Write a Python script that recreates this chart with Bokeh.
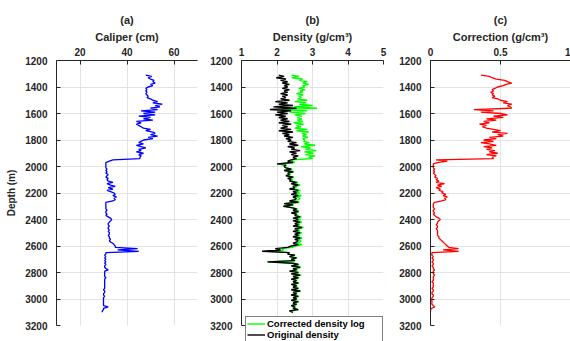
from bokeh.plotting import figure
from bokeh.layouts import row
from bokeh.models import Range1d, FixedTicker, Legend, LegendItem
from bokeh.embed import file_html
from bokeh.resources import INLINE

# ---------------- data ----------------
depth = list(range(1310, 3101, 10))  # m, sampling grid

caliper = [
    48, 50.5, 49, 50, 51.5, 51, 52, 50, 51, 49,
    48, 48.5, 48, 48.5, 48, 48.5, 49, 48.5, 50, 51,
    53, 51, 55, 52, 54, 50, 53, 46, 52, 47,
    52, 45, 50, 47, 51, 44, 46, 44, 45, 46,
    47, 50, 48, 51, 52, 50, 53, 49, 51, 47,
    46, 45, 47, 44, 46, 48, 45, 46, 44, 47,
    45, 46, 45.5, 45.5, 34, 32.5, 31, 31, 31, 31,
    31, 31.5, 31, 31.5, 31, 32, 31.5, 31, 32, 31.5,
    32, 34, 31.5, 33, 35, 32, 34, 31.5, 33, 34.5,
    35, 34, 35.5, 34.5, 35, 34, 31, 31, 31, 31,
    31, 31, 31.5, 31, 31, 31.5, 31, 32, 33, 33.5,
    33, 32.5, 32, 32, 32.5, 32, 32, 32.5, 32, 32.5,
    32.5, 32, 32.5, 32.5, 33, 32.5, 33, 34, 34.5, 35,
    35, 44.5, 36, 45, 31, 31, 30.5, 31, 30.5, 31,
    30.5, 31, 30.5, 31, 30.5, 30.5, 31, 32, 30.5, 30.5,
    30.5, 30.5, 30.5, 31, 30.5, 30.5, 30.5, 30.5, 30.5, 30.5,
    30.5, 30.5, 30, 30.5, 30.5, 30, 30, 30.5, 30, 30,
    30, 30, 30, 30, 30, 32, 30, 30, 29.5, 29.5,
]

density_original = [
    2.05, 2.20, 1.98, 2.25, 2.10, 2.30, 2.15, 2.35, 2.20, 2.30,
    2.15, 2.35, 2.20, 2.30, 2.10, 2.30, 2.15, 2.25, 2.10, 2.35,
    1.95, 2.30, 2.05, 2.45, 1.90, 2.55, 1.80, 2.40, 2.00, 2.30,
    1.95, 2.25, 2.05, 2.30, 2.10, 2.35, 2.05, 2.40, 2.15, 2.30,
    2.10, 2.40, 2.05, 2.45, 2.15, 2.35, 2.20, 2.45, 2.25, 2.40,
    2.30, 2.55, 2.35, 2.60, 2.30, 2.50, 2.40, 2.65, 2.35, 2.55,
    2.40, 2.60, 2.45, 2.55, 2.40, 2.30, 2.45, 2.00, 2.25, 2.20,
    2.25, 2.40, 2.20, 2.45, 2.30, 2.35, 2.25, 2.45, 2.30, 2.40,
    2.35, 2.55, 2.40, 2.60, 2.45, 2.50, 2.35, 2.60, 2.45, 2.55,
    2.40, 2.60, 2.45, 2.55, 2.50, 2.35, 2.60, 2.20, 2.45, 2.18,
    2.40, 2.55, 2.45, 2.60, 2.40, 2.55, 2.50, 2.65, 2.45, 2.60,
    2.45, 2.65, 2.50, 2.60, 2.45, 2.70, 2.50, 2.60, 2.45, 2.65,
    2.50, 2.60, 2.45, 2.65, 2.50, 2.60, 2.55, 2.45, 2.60, 2.40,
    2.30, 1.95, 2.10, 1.58, 2.35, 2.30, 2.50, 2.35, 2.55, 2.40,
    2.50, 1.73, 2.45, 2.60, 2.40, 2.65, 2.45, 2.55, 2.35, 2.60,
    2.40, 2.65, 2.45, 2.60, 2.40, 2.55, 2.45, 2.60, 2.40, 2.55,
    2.45, 2.60, 2.40, 2.65, 2.45, 2.55, 2.40, 2.60, 2.45, 2.55,
    2.40, 2.60, 2.45, 2.55, 2.40, 2.50, 2.45, 2.60, 2.35, 2.45,
]

correction = [
    0.36, 0.42, 0.44, 0.47, 0.53, 0.55, 0.58, 0.54, 0.52, 0.48,
    0.46, 0.44, 0.45, 0.43, 0.45, 0.44, 0.46, 0.44, 0.48, 0.50,
    0.55, 0.52, 0.58, 0.55, 0.57, 0.58, 0.31, 0.45, 0.36, 0.50,
    0.55, 0.45, 0.52, 0.40, 0.47, 0.38, 0.42, 0.35, 0.40, 0.37,
    0.40, 0.45, 0.50, 0.44, 0.55, 0.48, 0.52, 0.42, 0.47, 0.38,
    0.45, 0.36, 0.42, 0.47, 0.38, 0.44, 0.40, 0.46, 0.42, 0.48,
    0.40, 0.47, 0.44, 0.45, 0.04, 0.12, 0.05, 0.02, 0.02, 0.02,
    0.02, 0.03, 0.02, 0.03, 0.02, 0.03, 0.04, 0.03, 0.05, 0.04,
    0.06, 0.04, 0.10, 0.05, 0.08, 0.04, 0.07, 0.06, 0.09, 0.08,
    0.11, 0.09, 0.12, 0.10, 0.11, 0.08, 0.03, 0.02, 0.02, 0.02,
    0.02, 0.03, 0.02, 0.02, 0.03, 0.02, 0.03, 0.04, 0.06, 0.07,
    0.06, 0.05, 0.05, 0.04, 0.05, 0.05, 0.04, 0.05, 0.05, 0.05,
    0.05, 0.05, 0.06, 0.06, 0.07, 0.08, 0.09, 0.10, 0.11, 0.12,
    0.13, 0.20, 0.09, 0.20, 0.01, 0.01, 0.01, 0.02, 0.01, 0.02,
    0.02, 0.01, 0.02, 0.02, 0.01, 0.02, 0.02, 0.03, 0.02, 0.02,
    0.02, 0.03, 0.02, 0.02, 0.02, 0.02, 0.01, 0.02, 0.02, 0.02,
    0.02, 0.01, 0.02, 0.02, 0.01, 0.01, 0.02, 0.02, 0.01, 0.01,
    0.01, 0.01, 0.01, 0.01, 0.02, 0.03, 0.01, 0.00, 0.00, 0.00,
]

# corrected log = original + correction (as shown in panel c)
density_corrected = [d + c for d, c in zip(density_original, correction)]

depth_ticks = [1200, 1400, 1600, 1800, 2000, 2200, 2400, 2600, 2800, 3000, 3200]
caliper_ticks = [20, 40, 60]
density_ticks = [1, 2, 3, 4, 5]
correction_ticks = [0, 0.5, 1]

FONT = "Liberation Sans"
TXT = "#262626"
FRAME_H = 265
TOP = 60
BOTTOM = 16
DEPTH_TOP, DEPTH_BOT = 1200, 3200


def make_panel(title, xlabel, xrange, xticks, fw, bl, br, ylabel=None, extra_bottom=0):
    fh = FRAME_H + extra_bottom
    ybot = DEPTH_BOT + extra_bottom * (DEPTH_BOT - DEPTH_TOP) / FRAME_H
    p = figure(frame_width=fw, frame_height=fh,
               x_range=Range1d(*xrange), y_range=Range1d(ybot, DEPTH_TOP),
               x_axis_location="above", y_axis_location="left",
               output_backend="svg", toolbar_location=None,
               min_border_left=bl, min_border_right=br,
               min_border_top=TOP, min_border_bottom=BOTTOM - extra_bottom,
               title=title)
    p.outline_line_color = None
    p.background_fill_color = "white"
    p.border_fill_color = "white"
    p.title.align = "center"
    p.title.text_font = FONT
    p.title.text_font_size = "11px"
    p.title.text_font_style = "bold"
    p.title.text_color = TXT
    p.title.standoff = 3
    p.title.offset = 0

    xa = p.xaxis[0]
    xa.ticker = FixedTicker(ticks=xticks)
    xa.axis_label = xlabel
    ya = p.yaxis[0]
    ya.ticker = FixedTicker(ticks=depth_ticks)
    ya.bounds = (DEPTH_TOP, DEPTH_BOT)
    if ylabel:
        ya.axis_label = ylabel
    for ax in (xa, ya):
        ax.axis_line_color = TXT
        ax.axis_line_width = 1
        ax.major_tick_in = 4
        ax.major_tick_out = 0
        ax.minor_tick_line_color = None
        ax.major_tick_line_color = TXT
        ax.major_label_text_font = FONT
        ax.major_label_text_font_size = "10px"
        ax.major_label_text_font_style = "bold"
        ax.major_label_text_color = TXT
        ax.axis_label_text_font = FONT
        ax.axis_label_text_font_style = "bold"
        ax.axis_label_text_color = TXT
    xa.major_label_standoff = 5
    xa.axis_label_standoff = 2
    xa.axis_label_text_font_size = "11px"
    ya.major_label_standoff = 9
    ya.axis_label_standoff = 5
    ya.axis_label_text_font_size = "10px"
    for g in (p.xgrid[0], p.ygrid[0]):
        g.grid_line_color = "#e3e3e3"
        g.grid_line_width = 1
    p.xgrid[0].ticker = FixedTicker(ticks=xticks)
    p.ygrid[0].ticker = FixedTicker(ticks=depth_ticks)
    return p


pa = make_panel("(a)", "Caliper (cm)", (10, 70), caliper_ticks, 141, 56, 4, ylabel="Depth (m)")
pa.line(caliper, depth, line_color="#0000ff", line_width=1.3)

pb = make_panel("(b)", "Density (g/cm³)", (1, 5), density_ticks, 142, 40, 4, extra_bottom=BOTTOM)
g_corr = pb.line(density_corrected, depth, line_color="#00ff00", line_width=1.4)
g_orig = pb.line(density_original, depth, line_color="#000000", line_width=1.4)
legend = Legend(items=[LegendItem(label="Corrected density log", renderers=[g_corr]),
                       LegendItem(label="Original density", renderers=[g_orig])],
                location=(4, -1), orientation="vertical")
legend.label_text_font = FONT
legend.label_text_font_size = "9.5px"
legend.label_text_font_style = "bold"
legend.label_text_color = "#000000"
legend.label_height = 11
legend.glyph_height = 11
legend.glyph_width = 18
legend.label_standoff = 2
legend.label_width = 114
legend.spacing = 0
legend.padding = 1
legend.margin = 0
legend.border_line_color = "#000000"
legend.border_line_width = 1
legend.background_fill_alpha = 1.0
pb.add_layout(legend)

pc = make_panel("(c)", "Correction (g/cm³)", (0, 1), correction_ticks, 140, 43, 0)
pc.line(correction, depth, line_color="#ff0000", line_width=1.3)

layout = row(pa, pb, pc, spacing=0)

open("out.html", "w").write(file_html(layout, INLINE))
